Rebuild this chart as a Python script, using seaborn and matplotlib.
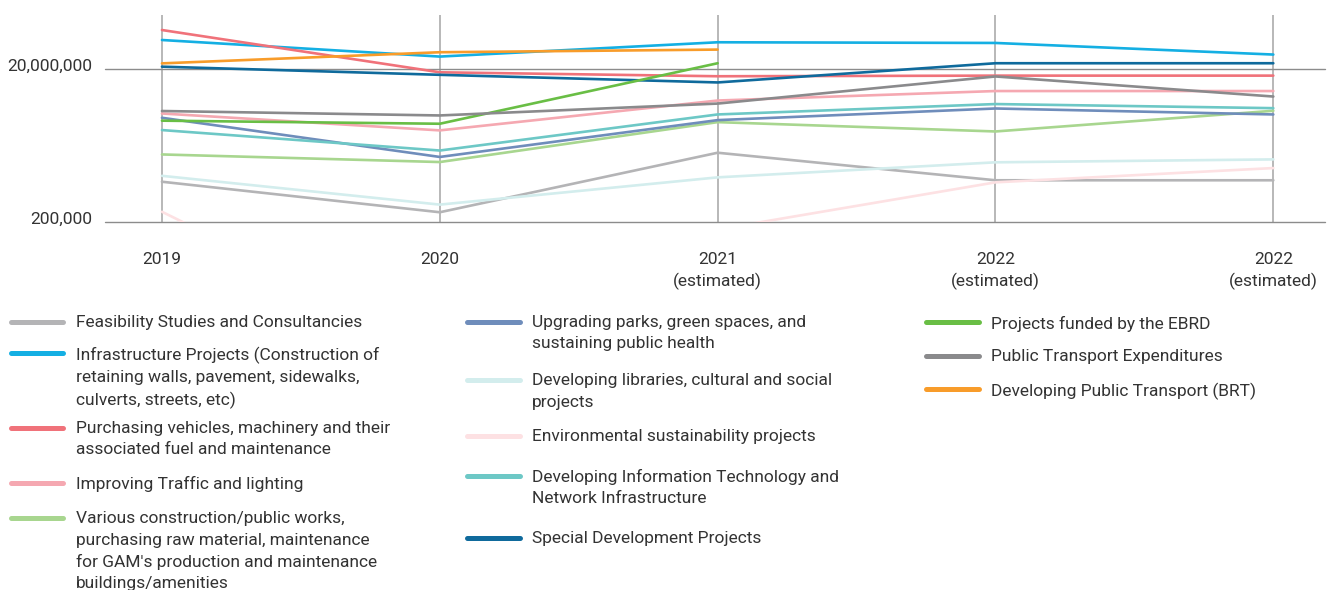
import numpy as np
import pandas as pd
import matplotlib
matplotlib.use("Agg")
import matplotlib.pyplot as plt
import matplotlib.transforms as mtransforms
from matplotlib.lines import Line2D
from matplotlib.ticker import FuncFormatter
import seaborn as sns

# x categories
years = ["2019", "2020", "2021\n(estimated)", "2022\n(estimated)", "2022\n(estimated)"]

# series values (log scale)
feasibility = [670000, 268000, 1600000, 700000, 700000]
infrastructure = [47200000, 28700000, 44100000, 43200000, 30500000]
vehicles = [63700000, 17900000, 15900000, 16200000, 16200000]
traffic = [5200000, 3130000, 7670000, 10200000, 10200000]
various = [1520000, 1210000, 4010000, 3030000, 5640000]
parks = [4570000, 1410000, 4260000, 6040000, 5050000]
libraries = [800000, 337000, 764000, 1200000, 1310000]
environment = [272000, 4400, 160000, 658000, 1010000]
it_network = [3160000, 1710000, 5050000, 6900000, 6100000]
special = [21200000, 16600000, 13200000, 23500000, 23500000]
ebrd = [4190000, 3820000, 23500000, np.nan, np.nan]
public_transport = [5600000, 4900000, 7000000, 15800000, 8650000]
brt = [23400000, 32700000, 35400000, np.nan, np.nan]

names = [
    "Feasibility Studies and Consultancies",
    "Infrastructure Projects (Construction of\nretaining walls, pavement, sidewalks,\nculverts, streets, etc)",
    "Purchasing vehicles, machinery and their\nassociated fuel and maintenance",
    "Improving Traffic and lighting",
    "Various construction/public works,\npurchasing raw material, maintenance\nfor GAM's production and maintenance\nbuildings/amenities",
    "Upgrading parks, green spaces, and\nsustaining public health",
    "Developing libraries, cultural and social\nprojects",
    "Environmental sustainability projects",
    "Developing Information Technology and\nNetwork Infrastructure",
    "Special Development Projects",
    "Projects funded by the EBRD",
    "Public Transport Expenditures",
    "Developing Public Transport (BRT)",
]
values = [feasibility, infrastructure, vehicles, traffic, various, parks, libraries,
          environment, it_network, special, ebrd, public_transport, brt]
colors = ["#b4b4b6", "#14afe3", "#f0727a", "#f5a8b1", "#a8d68f", "#6f8dbb", "#d3eded",
          "#fde1e3", "#6dc8c6", "#0f6a9c", "#69be45", "#8a8a8c", "#f89c2a"]

rows = []
for name, vals in zip(names, values):
    for i, v in enumerate(vals):
        rows.append({"series": name, "pos": i, "value": v})
df = pd.DataFrame(rows).dropna()

sns.set_style("white")
plt.rcParams['font.family'] = ['Roboto', 'DejaVu Sans']
text_color = "#333333"
fs = 12.5
lsp = 1.5

fig = plt.figure(figsize=(13.29, 5.90), dpi=100)
W, H = 1329, 590
ax = fig.add_axes([105 / W, 1 - 222 / H, 1220 / W, 207 / H])

# grid lines
for i in range(len(years)):
    ax.axvline(i, color="#b8b8b8", lw=1.4, zorder=0)
for yv in [200000, 20000000]:
    ax.axhline(yv, color="#8c8c8c", lw=1.0, zorder=0.5, clip_on=False)

sns.lineplot(data=df, x="pos", y="value", hue="series", hue_order=names,
             palette=dict(zip(names, colors)), linewidth=1.9, estimator=None,
             sort=False, legend=False, ax=ax)

ax.set_yscale("log")
ax.set_ylim(200000, 1e8)
ax.set_xlim(-0.205, 4.186)
ax.set_yticks([200000, 20000000])
ax.yaxis.set_minor_locator(matplotlib.ticker.NullLocator())
ax.yaxis.set_major_formatter(FuncFormatter(lambda v, p: f"{v:,.0f}"))
ax.set_xticks(range(len(years)))
ax.set_xticklabels(years, linespacing=1.45)
ax.set_xlabel("")
ax.set_ylabel("")
for s in ax.spines.values():
    s.set_visible(False)
ax.tick_params(axis="x", length=16.5, width=1.4, color="#b8b8b8", pad=5,
               labelsize=fs, labelcolor=text_color)
ax.tick_params(axis="y", length=0, pad=9, labelsize=fs, labelcolor=text_color)
offset = mtransforms.ScaledTranslation(0, 3 / 72, fig.dpi_scale_trans)
for lab in ax.get_yticklabels():
    lab.set_transform(lab.get_transform() + offset)

# legend, three columns
cols = [
    (8, 66, 76, [0, 1, 2, 3, 4], [321.7, 353, 427.7, 482.7, 518]),
    (464, 522, 532, [5, 6, 7, 8, 9], [321.7, 380, 435.7, 475.7, 537.7]),
    (923, 981, 991, [10, 11, 12], [322.3, 355.7, 389.3]),
]
for x0, x1, xt, idx, ys in cols:
    for k, yc in zip(idx, ys):
        yf = 1 - yc / H
        fig.add_artist(Line2D([(x0 + 2.5) / W, (x1 - 2.5) / W], [yf, yf],
                              transform=fig.transFigure, color=colors[k],
                              lw=3.6, solid_capstyle="round"))
        fig.text(xt / W, 1 - (yc - 6.5) / H, names[k], ha="left", va="top",
                 fontsize=fs, color=text_color, linespacing=lsp)

fig.savefig("out.png", dpi=100)
